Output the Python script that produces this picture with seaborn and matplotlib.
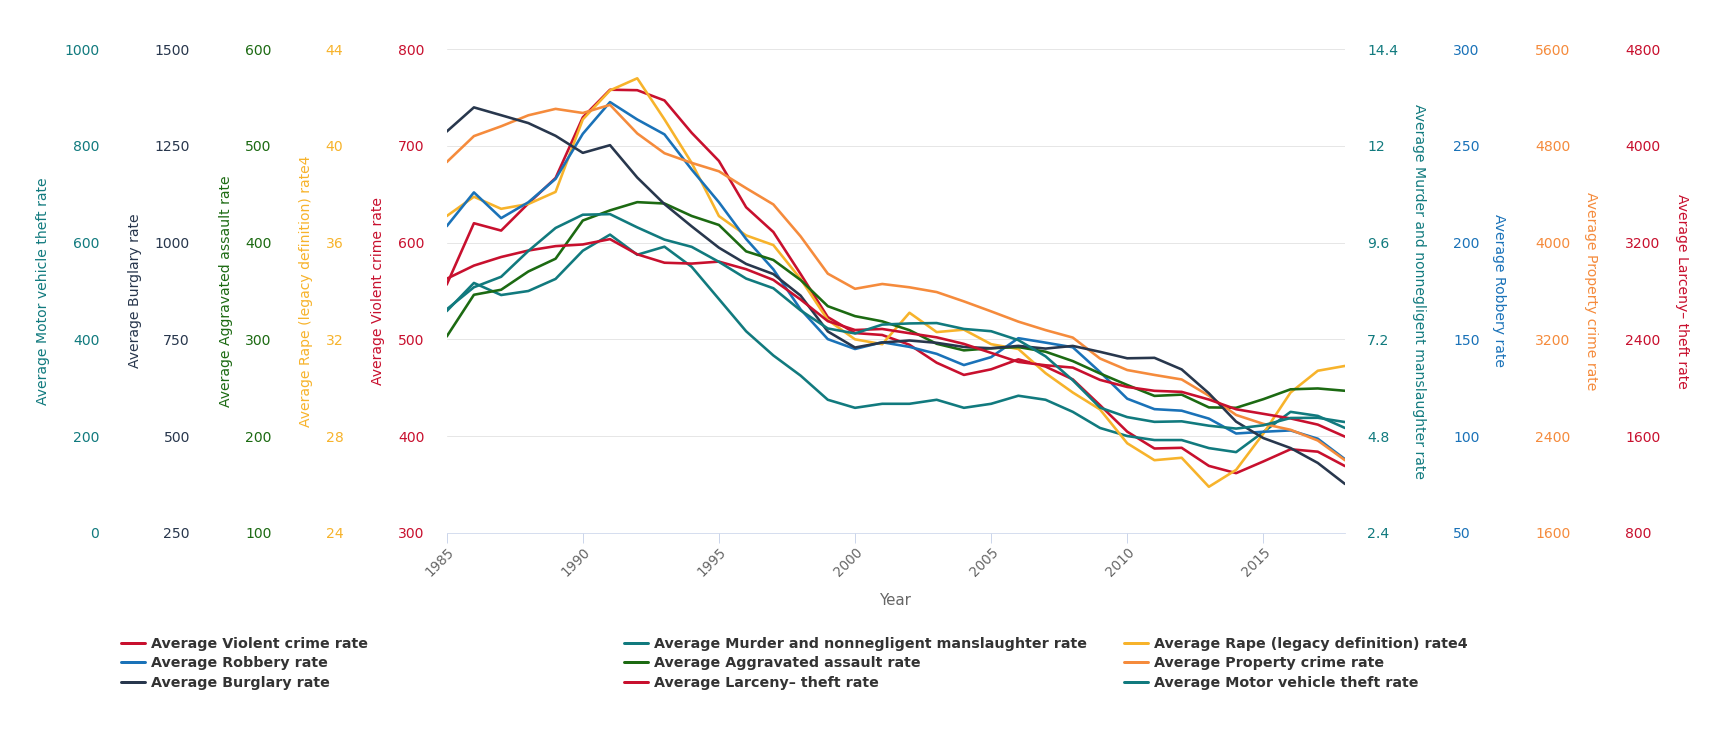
import matplotlib
matplotlib.use("Agg")
import matplotlib.pyplot as plt
import seaborn as sns
import pandas as pd
from matplotlib.lines import Line2D

# Data (rates per 100k)
years = list(range(1985, 2019))

violent = [556.6, 620.1, 612.5, 640.6, 666.9, 729.6, 758.2, 757.7, 747.1, 713.6,
           684.5, 636.6, 611.0, 567.6, 523.0, 506.5, 504.5, 494.4, 475.8, 463.2,
           469.0, 479.3, 471.8, 458.6, 431.9, 404.5, 387.1, 387.8, 369.1, 361.6,
           373.7, 386.3, 383.8, 368.9]
murder = [7.9, 8.6, 8.3, 8.4, 8.7, 9.4, 9.8, 9.3, 9.5, 9.0,
          8.2, 7.4, 6.8, 6.3, 5.7, 5.5, 5.6, 5.6, 5.7, 5.5,
          5.6, 5.8, 5.7, 5.4, 5.0, 4.8, 4.7, 4.7, 4.5, 4.4,
          4.9, 5.4, 5.3, 5.0]
rape = [37.1, 37.9, 37.4, 37.6, 38.1, 41.1, 42.3, 42.8, 41.1, 39.3,
        37.1, 36.3, 35.9, 34.5, 32.8, 32.0, 31.8, 33.1, 32.3, 32.4,
        31.8, 31.6, 30.6, 29.8, 29.1, 27.7, 27.0, 27.1, 25.9, 26.6,
        28.1, 29.8, 30.7, 30.9]
robbery = [208.5, 226.0, 212.7, 220.9, 233.0, 256.3, 272.7, 263.7, 256.0, 237.8,
           220.9, 201.9, 186.2, 165.5, 150.1, 145.0, 148.5, 146.1, 142.5, 136.7,
           140.8, 150.6, 148.3, 145.9, 133.1, 119.3, 113.9, 113.1, 109.0, 101.3,
           102.2, 102.9, 98.6, 88.0]
aggravated = [302.9, 346.1, 351.3, 370.2, 383.4, 422.9, 433.4, 441.9, 440.5, 427.6,
              418.3, 391.0, 382.1, 361.4, 334.3, 324.0, 318.6, 309.5, 295.4, 288.6,
              290.8, 292.0, 287.2, 277.5, 264.7, 252.8, 241.5, 242.8, 229.6, 229.2,
              238.1, 248.3, 249.2, 246.8]
property_crime = [4666.4, 4881.8, 4963.0, 5054.0, 5107.1, 5073.1, 5140.2, 4903.7, 4740.0, 4660.2,
                  4590.5, 4451.0, 4316.3, 4052.5, 3743.6, 3618.3, 3658.1, 3630.6, 3591.2, 3514.1,
                  3431.5, 3346.6, 3276.4, 3214.6, 3041.3, 2945.9, 2905.4, 2868.0, 2733.6, 2574.1,
                  2500.5, 2451.6, 2362.9, 2199.5]
burglary = [1287.3, 1349.8, 1329.6, 1309.2, 1276.3, 1232.2, 1252.1, 1168.4, 1099.7, 1042.1,
            987.0, 945.0, 918.8, 863.2, 770.4, 728.8, 741.8, 747.0, 741.0, 730.3,
            726.9, 733.1, 726.1, 733.0, 717.7, 701.0, 702.2, 672.2, 610.5, 537.2,
            494.7, 468.9, 430.4, 376.0]
larceny = [2901.2, 3010.3, 3081.3, 3134.9, 3171.3, 3185.1, 3229.1, 3103.6, 3033.9, 3026.9,
           3043.2, 2980.3, 2891.8, 2729.5, 2550.7, 2477.3, 2485.7, 2450.7, 2416.5, 2362.3,
           2287.8, 2213.2, 2185.4, 2166.1, 2064.5, 2005.8, 1974.1, 1965.4, 1901.9, 1821.5,
           1783.6, 1745.4, 1694.4, 1594.6]
motor_vehicle = [462.0, 507.8, 529.4, 582.9, 630.4, 657.8, 659.0, 631.6, 606.3, 591.3,
                 560.3, 525.7, 505.7, 459.9, 422.5, 412.2, 430.5, 432.9, 433.7, 421.5,
                 416.8, 398.4, 364.9, 315.4, 258.8, 239.1, 229.3, 230.4, 221.3, 215.4,
                 222.2, 237.3, 237.7, 228.9]

# name, values, axis min, axis max, colour, side, offset(px), label x (axes frac)
series = [
    ("Average Violent crime rate", violent, 300, 800, "#c8102e", "left", 22.4, -0.0765),
    ("Average Murder and nonnegligent manslaughter rate", murder, 2.4, 14.4, "#117a7e", "right", 22.3, 1.0827),
    ("Average Rape (legacy definition) rate4", rape, 24, 44, "#f7b32b", "left", 103.4, -0.157),
    ("Average Robbery rate", robbery, 50, 300, "#1a72b8", "right", 108.3, 1.1718),
    ("Average Aggravated assault rate", aggravated, 100, 600, "#1c6a12", "left", 175.0, -0.246),
    ("Average Property crime rate", property_crime, 1600, 5600, "#f58b3c", "right", 190.0, 1.2735),
    ("Average Burglary rate", burglary, 250, 1500, "#28374d", "left", 256.7, -0.347),
    ("Average Larceny\u2013 theft rate", larceny, 800, 4800, "#c8102e", "right", 280.0, 1.3748),
    ("Average Motor vehicle theft rate", motor_vehicle, 0, 1000, "#117a7e", "left", 347.4, -0.449),
]
legend_names = [s[0] for s in series]

sns.set_style("white")
plt.rcParams["font.family"] = ["DejaVu Sans"]

W, H, DPI = 1729, 735, 72
fig = plt.figure(figsize=(W / DPI, H / DPI), dpi=DPI)
ax = fig.add_axes([446.7 / W, (H - 532.7) / H, 898.3 / W, 483.4 / H])

handles = []
for i, (name, vals, lo, hi, color, side, off, lx) in enumerate(series):
    a = ax if i == 0 else ax.twinx()
    df = pd.DataFrame({"Year": years, "value": vals})
    sns.lineplot(data=df, x="Year", y="value", ax=a, color=color, linewidth=2.6)
    a.set_ylim(lo, hi)
    ticks = [round(lo + k * (hi - lo) / 5, 2) for k in range(6)]
    a.set_yticks(ticks)
    a.set_yticklabels([f"{t:g}" for t in ticks])
    for sp in a.spines.values():
        sp.set_visible(False)
    if side == "left":
        a.yaxis.tick_left()
        a.yaxis.set_label_position("left")
        a.spines["left"].set_position(("outward", off))
        rot = 90
    else:
        a.yaxis.tick_right()
        a.yaxis.set_label_position("right")
        a.spines["right"].set_position(("outward", off))
        rot = 270
    a.tick_params(axis="y", length=0, pad=0, labelsize=14, labelcolor=color)
    a.set_ylabel(name, color=color, fontsize=14, rotation=rot)
    a.yaxis.set_label_coords(lx, 0.5)
    a.yaxis.label.set_va("center")
    a.yaxis.label.set_ha("center")
    handles.append(Line2D([0], [0], color=color, linewidth=3))

# x axis and grid on the main axes
ax.set_xlim(1985, 2018)
ax.set_xticks(list(range(1985, 2016, 5)))
ax.yaxis.grid(True, color="#e6e6e6", linewidth=1)
ax.set_axisbelow(True)
ax.spines["bottom"].set_visible(True)
ax.spines["bottom"].set_color("#ccd6eb")
ax.tick_params(axis="x", bottom=True, direction="out", length=10, width=1,
               color="#ccd6eb", labelsize=13.5, labelcolor="#666666", pad=2)
for lab in ax.get_xticklabels():
    lab.set_rotation(45)
    lab.set_ha("right")
    lab.set_rotation_mode("anchor")
ax.set_xlabel("Year", fontsize=15, color="#666666")
ax.xaxis.set_label_coords(0.5, -0.14)
ax.xaxis.label.set_va("center")

# legend: three columns placed like the original
order = [[0, 3, 6], [1, 4, 7], [2, 5, 8]]
col_x = [121, 624, 1124]
for cx, idx in zip(col_x, order):
    fig.legend([handles[j] for j in idx], [legend_names[j] for j in idx],
               loc="upper left", bbox_to_anchor=(cx / W, 1 - 637 / H),
               frameon=False, borderpad=0, borderaxespad=0, handlelength=1.65,
               handletextpad=0.45, labelspacing=0.38,
               prop={"size": 14.3, "weight": "bold"}, labelcolor="#333333")

fig.savefig("out.png", dpi=DPI)
